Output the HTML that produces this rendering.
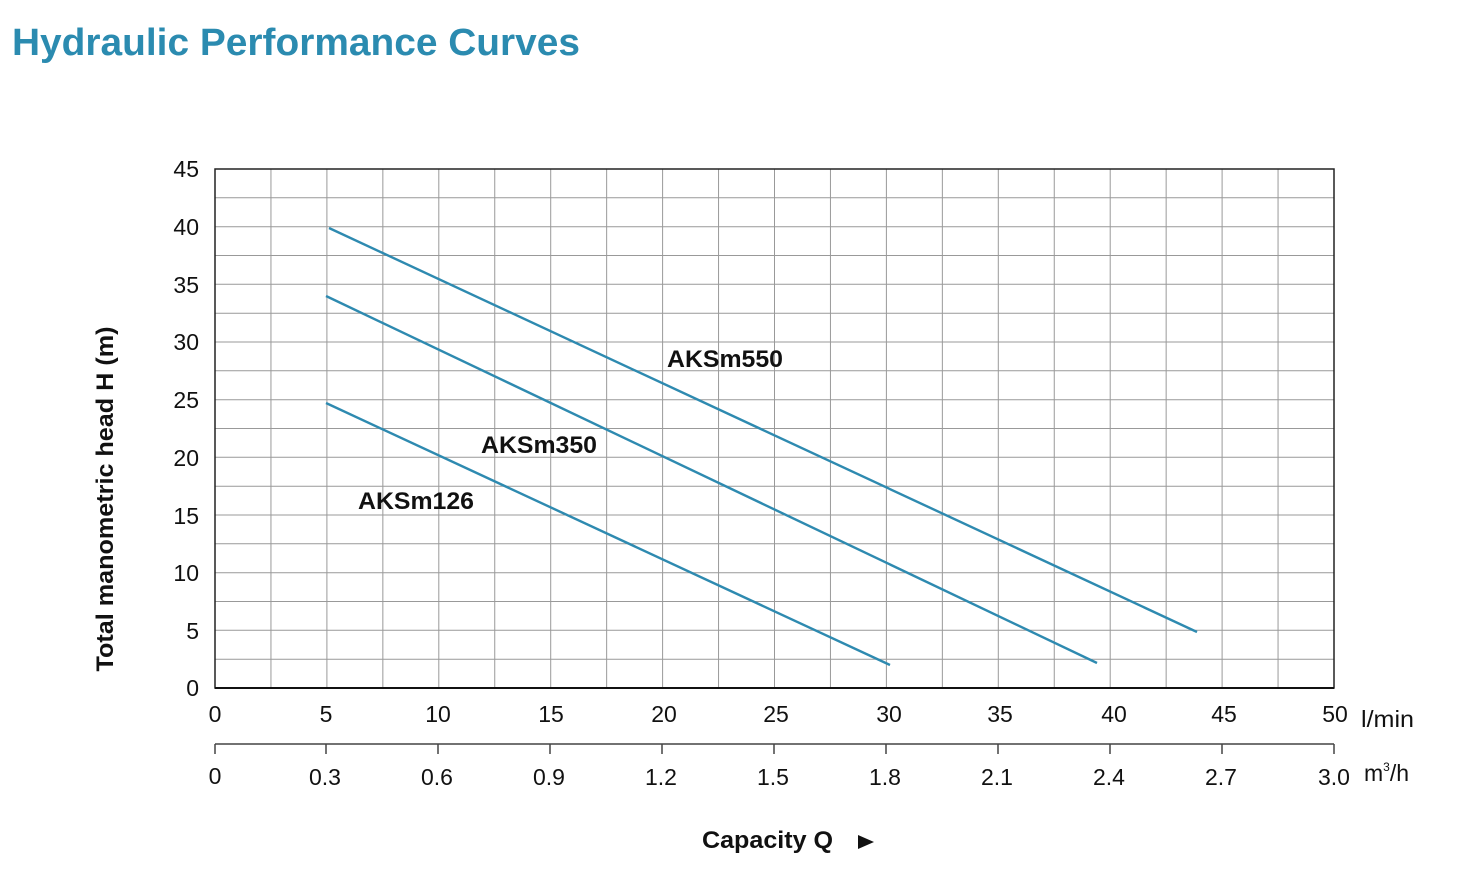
<!DOCTYPE html>
<html><head><style>
body{margin:0;background:#fff;}
svg{display:block;font-family:"Liberation Sans",Arial,sans-serif;}
</style></head><body>
<svg width="1481" height="871" viewBox="0 0 1481 871">
<text x="12" y="55" font-size="38" font-weight="bold" fill="#2b8bb0" textLength="568" lengthAdjust="spacingAndGlyphs">Hydraulic Performance Curves</text>
<g stroke="#999" stroke-width="1">
<line x1="270.95" y1="169" x2="270.95" y2="688"/><line x1="326.9" y1="169" x2="326.9" y2="688"/><line x1="382.85" y1="169" x2="382.85" y2="688"/><line x1="438.8" y1="169" x2="438.8" y2="688"/><line x1="494.75" y1="169" x2="494.75" y2="688"/><line x1="550.7" y1="169" x2="550.7" y2="688"/><line x1="606.65" y1="169" x2="606.65" y2="688"/><line x1="662.6" y1="169" x2="662.6" y2="688"/><line x1="718.55" y1="169" x2="718.55" y2="688"/><line x1="774.5" y1="169" x2="774.5" y2="688"/><line x1="830.45" y1="169" x2="830.45" y2="688"/><line x1="886.4" y1="169" x2="886.4" y2="688"/><line x1="942.35" y1="169" x2="942.35" y2="688"/><line x1="998.3" y1="169" x2="998.3" y2="688"/><line x1="1054.25" y1="169" x2="1054.25" y2="688"/><line x1="1110.2" y1="169" x2="1110.2" y2="688"/><line x1="1166.15" y1="169" x2="1166.15" y2="688"/><line x1="1222.1" y1="169" x2="1222.1" y2="688"/><line x1="1278.05" y1="169" x2="1278.05" y2="688"/>
<line x1="215" y1="197.8" x2="1334" y2="197.8"/><line x1="215" y1="226.7" x2="1334" y2="226.7"/><line x1="215" y1="255.5" x2="1334" y2="255.5"/><line x1="215" y1="284.3" x2="1334" y2="284.3"/><line x1="215" y1="313.2" x2="1334" y2="313.2"/><line x1="215" y1="342" x2="1334" y2="342"/><line x1="215" y1="370.8" x2="1334" y2="370.8"/><line x1="215" y1="399.7" x2="1334" y2="399.7"/><line x1="215" y1="428.5" x2="1334" y2="428.5"/><line x1="215" y1="457.3" x2="1334" y2="457.3"/><line x1="215" y1="486.2" x2="1334" y2="486.2"/><line x1="215" y1="515" x2="1334" y2="515"/><line x1="215" y1="543.8" x2="1334" y2="543.8"/><line x1="215" y1="572.7" x2="1334" y2="572.7"/><line x1="215" y1="601.5" x2="1334" y2="601.5"/><line x1="215" y1="630.3" x2="1334" y2="630.3"/><line x1="215" y1="659.2" x2="1334" y2="659.2"/>
</g>
<rect x="215" y="169" width="1119" height="519" fill="none" stroke="#222" stroke-width="1.5"/>
<line x1="215" y1="688" x2="1334" y2="688" stroke="#111" stroke-width="2"/>
<g stroke="#2e8ab0" stroke-width="2.4">
<line x1="329" y1="228" x2="1197" y2="632"/>
<line x1="326" y1="296" x2="1097" y2="663"/>
<line x1="326" y1="403" x2="890" y2="665"/>
</g>
<g font-size="24" font-weight="bold" fill="#111">
<text x="667" y="367" textLength="116" lengthAdjust="spacingAndGlyphs">AKSm550</text>
<text x="481" y="453" textLength="116" lengthAdjust="spacingAndGlyphs">AKSm350</text>
<text x="358" y="509" textLength="116" lengthAdjust="spacingAndGlyphs">AKSm126</text>
</g>
<g font-size="23" fill="#111" text-anchor="end">
<text x="199" y="177">45</text><text x="199" y="235">40</text><text x="199" y="293">35</text><text x="199" y="350">30</text><text x="199" y="408">25</text><text x="199" y="466">20</text><text x="199" y="524">15</text><text x="199" y="581">10</text><text x="199" y="639">5</text><text x="199" y="696">0</text>
</g>
<g font-size="23" fill="#111" text-anchor="middle">
<text x="215" y="722">0</text><text x="326" y="722">5</text><text x="438" y="722">10</text><text x="551" y="722">15</text><text x="664" y="722">20</text><text x="776" y="722">25</text><text x="889" y="722">30</text><text x="1000" y="722">35</text><text x="1114" y="722">40</text><text x="1224" y="722">45</text><text x="1335" y="722">50</text>
<text x="215" y="784">0</text><text x="325" y="785">0.3</text><text x="437" y="785">0.6</text><text x="549" y="785">0.9</text><text x="661" y="785">1.2</text><text x="773" y="785">1.5</text><text x="885" y="785">1.8</text><text x="997" y="785">2.1</text><text x="1109" y="785">2.4</text><text x="1221" y="785">2.7</text><text x="1334" y="785">3.0</text>
</g>
<text x="1361" y="727" font-size="23" fill="#111" textLength="53" lengthAdjust="spacingAndGlyphs">l/min</text>
<text x="1364" y="781" font-size="23" fill="#111">m<tspan font-size="12" dy="-10">3</tspan><tspan dy="10">/h</tspan></text>
<g stroke="#444" stroke-width="1.5">
<line x1="215" y1="744" x2="1334" y2="744"/>
<line x1="215" y1="744" x2="215" y2="754"/><line x1="326" y1="744" x2="326" y2="754"/><line x1="438" y1="744" x2="438" y2="754"/><line x1="550" y1="744" x2="550" y2="754"/><line x1="662" y1="744" x2="662" y2="754"/><line x1="774" y1="744" x2="774" y2="754"/><line x1="886" y1="744" x2="886" y2="754"/><line x1="998" y1="744" x2="998" y2="754"/><line x1="1110" y1="744" x2="1110" y2="754"/><line x1="1222" y1="744" x2="1222" y2="754"/><line x1="1334" y1="744" x2="1334" y2="754"/>
</g>
<text x="702" y="848" font-size="24" font-weight="bold" fill="#111" textLength="131" lengthAdjust="spacingAndGlyphs">Capacity Q</text>
<polygon points="858,835 874,842 858,849" fill="#111"/>
<text transform="translate(113,499) rotate(-90)" font-size="24" font-weight="bold" fill="#111" text-anchor="middle" textLength="345" lengthAdjust="spacingAndGlyphs">Total manometric head H (m)</text>
</svg>
</body></html>
